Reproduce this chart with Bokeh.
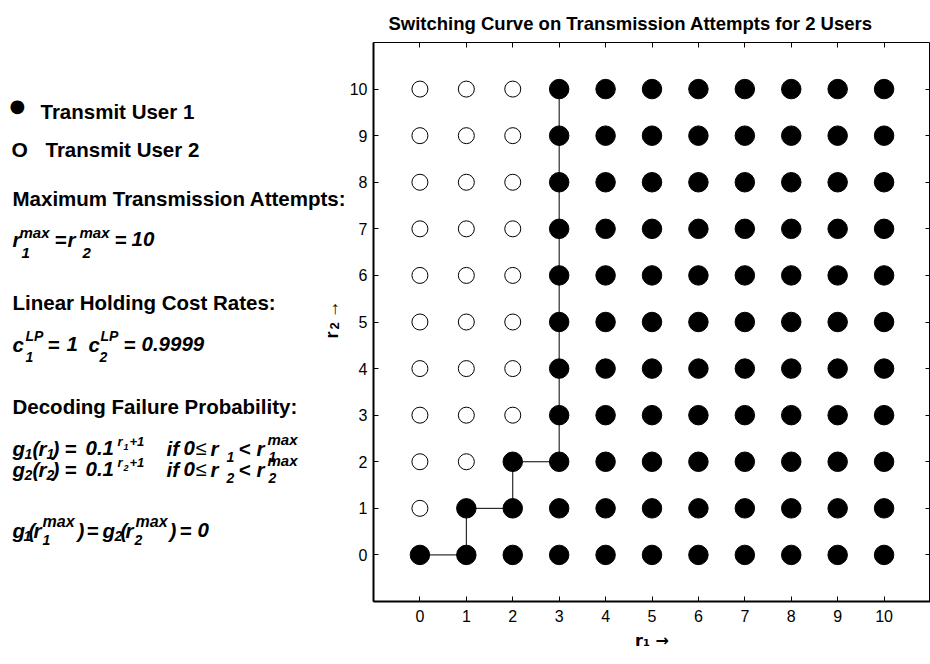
import math
from bokeh.plotting import figure
from bokeh.layouts import row
from bokeh.models import Label, FixedTicker, LinearAxis, Range1d
from bokeh.embed import file_html
from bokeh.resources import INLINE

# ---------------- data ----------------
r1_values = list(range(11))          # transmission attempts of user 1
r2_values = list(range(11))          # transmission attempts of user 2
switch_r1 = [0, 1, 2, 3, 3, 3, 3, 3, 3, 3, 3]   # smallest r1 that transmits user 1, per r2
curve_r1 = [0, 1, 1, 2, 2, 3, 3]     # switching curve
curve_r2 = [0, 0, 1, 1, 2, 2, 10]
tick_values = list(range(11))

u1_x, u1_y, u2_x, u2_y = [], [], [], []
for r2 in r2_values:
    for r1 in r1_values:
        if r1 >= switch_r1[r2]:
            u1_x.append(r1); u1_y.append(r2)
        else:
            u2_x.append(r1); u2_y.append(r2)

FONT = "Liberation Sans"
W, H = 930, 664
LW = 346                      # width of the text panel
FL, FT, FB = 372, 42, 601     # frame edges of the chart (page pixels)

# ---------------- chart ----------------
p = figure(width=W - LW, height=H, x_range=Range1d(-1, 11), y_range=Range1d(-1, 11),
           output_backend="svg", toolbar_location=None,
           x_axis_location=None, y_axis_location=None,
           min_border_left=FL - LW, min_border_right=0,
           min_border_top=FT, min_border_bottom=H - FB)
p.grid.visible = False
p.outline_line_color = "black"
p.outline_line_width = 1
p.background_fill_color = "white"
p.border_fill_color = "white"

def make_axis(show_labels, line_width, standoff=6):
    ax = LinearAxis(ticker=FixedTicker(ticks=tick_values))
    ax.major_tick_in = 5
    ax.major_tick_out = 0
    ax.minor_tick_line_color = None
    ax.major_tick_line_color = "black"
    ax.axis_line_color = "black" if line_width else None
    ax.axis_line_width = line_width or 1
    if show_labels:
        ax.major_label_text_font = FONT
        ax.major_label_text_font_size = "16px"
        ax.major_label_text_color = "black"
        ax.major_label_standoff = standoff
    else:
        ax.major_label_text_font_size = "0px"
        ax.major_label_text_color = None
        ax.major_label_standoff = 0
    return ax

xa = make_axis(True, 2, standoff=8)
xa.axis_label = "r\u2081 \u2192"
xa.axis_label_text_font = "DejaVu Sans"
xa.axis_label_text_font_size = "16px"
xa.axis_label_text_font_style = "bold"
xa.axis_label_text_color = "black"
xa.axis_label_standoff = 6
p.add_layout(xa, "below")

ya = make_axis(True, 2)
p.add_layout(ya, "left")

p.add_layout(make_axis(False, 0), "above")
p.add_layout(make_axis(False, 0), "right")

p.title.text = "Switching Curve on Transmission Attempts for 2 Users"
p.title.text_font = FONT
p.title.text_font_size = "18.5px"
p.title.text_font_style = "bold"
p.title.text_color = "black"
p.title.align = "left"
p.title.offset = 15
p.title.standoff = 18

# switching curve and states
p.line(curve_r1, curve_r2, line_color="black", line_width=1)
p.scatter(u2_x, u2_y, size=16, marker="circle", fill_color="white",
          line_color="black", line_width=1)
p.scatter(u1_x, u1_y, size=19.5, marker="circle", fill_color="black",
          line_color="black", line_width=1)

# ---------------- text panel (data units = page pixels) ----------------
t = figure(width=LW, height=H, x_range=Range1d(0, LW), y_range=Range1d(FB, FT),
           output_backend="svg", toolbar_location=None,
           x_axis_location=None, y_axis_location=None,
           min_border=0, min_border_left=0, min_border_right=0,
           min_border_top=FT, min_border_bottom=H - FB)
t.grid.visible = False
t.outline_line_color = None
t.background_fill_color = "white"
t.border_fill_color = "white"

M = 20.5   # main text size
S = 15     # script size

def put(px, py, s, size=M, style="bold italic", font=FONT, angle=0.0, raw=False):
    # py is the text baseline (page pixels); the renderer centres glyphs on the anchor
    y = py if raw else py - 0.36 * size
    t.add_layout(Label(x=px, y=y, text=s, text_font=font,
                       text_font_size=f"{size}px", text_font_style=style,
                       text_color="black", text_align="left",
                       text_baseline="alphabetic", angle=angle))

# legend
put(9, 105, "\u25cf", 18, "normal", "DejaVu Sans", raw=True)
put(40, 118, "Transmit User 1", M, "bold")
put(11, 149, "O", 21, "bold", raw=True)
put(45, 156, "Transmit User 2", M, "bold")

put(12, 205, "Maximum Transmission Attempts:", M, "bold")
b = 246
put(12, b, "r"); put(19, b - 9, "max", S); put(21, b + 12, "1", S)
put(54, b, "="); put(67, b, "r"); put(79, b - 9, "max", S); put(82, b + 12, "2", S)
put(114, b, "="); put(131, b, "10")

put(12, 309, "Linear Holding Cost Rates:", M, "bold")
b = 351
put(12, b, "c"); put(25, b - 10, "LP", 14); put(25, b + 11, "1", 14)
put(47, b, "="); put(66, b, "1")
put(88, b, "c"); put(100, b - 10, "LP", 14); put(99, b + 11, "2", 14)
put(123, b, "="); put(141, b, "0.9999")

put(12, 413, "Decoding Failure Probability:", M, "bold")
for i, b in enumerate([455, 476]):
    k = str(i + 1)
    put(12, b, "g"); put(24, b + 4, k, 14)
    put(32, b, "("); put(38, b, "r"); put(46, b + 4, k, 14)
    put(52, b, ")"); put(64, b, "="); put(85, b, "0.1")
    put(117, b - 9, "r", 13); put(123, b - 5, k, 9); put(129, b - 9, "+1", 13)
    put(166, b, "if"); put(183, b, "0"); put(195, b, "\u2264", 20, "normal")
    put(210, b, "r"); put(226, b + 7, k, 14)
    put(238, b, "<"); put(256, b, "r")
    put(267, b - 11, "max", S); put(268, b + 7, k, 14)

b = 537
put(12, b, "g"); put(23, b + 4, "1", 14)
put(28, b, "("); put(33, b, "r"); put(42, b - 10, "max", 16); put(42, b + 8, "1", 14)
put(77, b, ")"); put(86, b, "="); put(102, b, "g"); put(114, b + 4, "2", 14)
put(120, b, "("); put(125, b, "r"); put(135, b - 10, "max", 16); put(134, b + 8, "2", 14)
put(169, b, ")"); put(179, b, "="); put(197, b, "0")

# y axis label of the chart (r2 ->), rotated
up = math.pi / 2
put(331, 338, "r", 18, "bold", angle=up, raw=True)
put(334, 329, "2", 13, "bold", angle=up, raw=True)
put(331, 318, "\u2192", 18, "normal", angle=up, raw=True)

layout = row(t, p, spacing=0)
open("out.html", "w").write(file_html(layout, INLINE))
